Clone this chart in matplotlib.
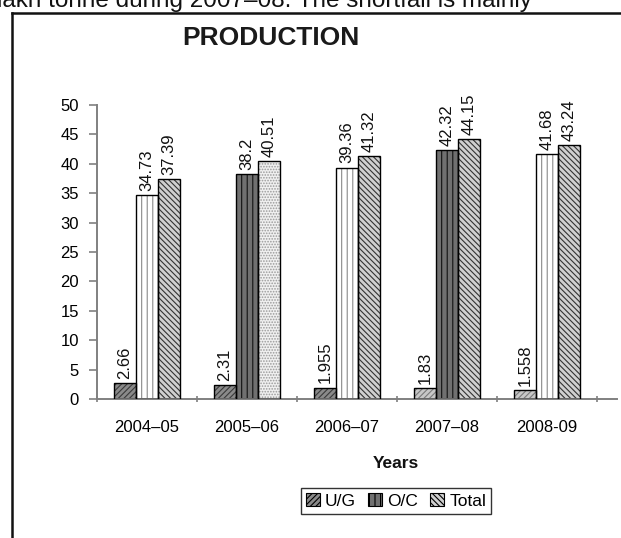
"""Recreate the PRODUCTION grouped bar chart (U/G, O/C, Total by year)."""

import matplotlib
matplotlib.use("Agg")

import numpy as np
import matplotlib.pyplot as plt
from matplotlib.patches import Rectangle
from matplotlib.lines import Line2D

plt.rcParams["font.family"] = ["Liberation Sans", "DejaVu Sans"]
plt.rcParams["hatch.linewidth"] = 0.8

# ── Data ───────────────────────────────────────────────────────────────────
years = ["2004–05", "2005–06", "2006–07", "2007–08", "2008-09"]
series = ["U/G", "O/C", "Total"]
ug = [2.66, 2.31, 1.955, 1.83, 1.558]
oc = [34.73, 38.2, 39.36, 42.32, 41.68]
total = [37.39, 40.51, 41.32, 44.15, 43.24]
labels_ug = ["2.66", "2.31", "1.955", "1.83", "1.558"]
labels_oc = ["34.73", "38.2", "39.36", "42.32", "41.68"]
labels_total = ["37.39", "40.51", "41.32", "44.15", "43.24"]
y_ticks = [0, 5, 10, 15, 20, 25, 30, 35, 40, 45, 50]

# ── Styles (the scan shows the fills varying from group to group) ──────────
ug_style = [("#8a8a8a", "#3a3a3a", "//////")] * 3 + [("#c8c8c8", "#7a7a7a", "//////")] * 2
oc_light = ("#ffffff", "#8a8a8a", "|||")
oc_dark = ("#707070", "#111111", "|||")
oc_style = [oc_light, oc_dark, oc_light, oc_dark, oc_light]
tot_diag = ("#d0d0d0", "#333333", "\\\\\\\\\\\\")
tot_dots = ("#f0f0f0", "#9a9a9a", "......")
tot_style = [tot_diag, tot_dots, tot_diag, tot_diag, tot_diag]

fig = plt.figure(figsize=(6.21, 5.38), dpi=100)
W, H = 621, 538
ax = fig.add_axes([97 / W, 1 - 399 / H, 520 / W, 294 / H])

x = np.arange(len(years))
bw = 0.22
for vals, labs, styles, off in [(ug, labels_ug, ug_style, -bw),
                                (oc, labels_oc, oc_style, 0.0),
                                (total, labels_total, tot_style, bw)]:
    for i, (v, lab, (fc, hc, hatch)) in enumerate(zip(vals, labs, styles)):
        ax.bar(x[i] + off, v, width=bw, facecolor=fc, edgecolor=hc,
               hatch=hatch, linewidth=0, zorder=2)
        ax.bar(x[i] + off, v, width=bw, facecolor="none", edgecolor="black",
               linewidth=1.0, zorder=3)
        ax.annotate(lab, xy=(x[i] + off, v), xytext=(0, 3),
                    textcoords="offset points", rotation=90,
                    ha="center", va="bottom", fontsize=12, color="#111111")

ax.set_xlim(-0.5, 4.7)
ax.set_ylim(0, 50)
ax.set_yticks(y_ticks)
ax.set_xticks(x)
ax.set_xticklabels(years)
ax.set_xticks(np.arange(-0.5, 5.0, 1.0), minor=True)
ax.tick_params(axis="x", which="major", length=0, pad=15, labelsize=12)
ax.tick_params(axis="x", which="minor", length=5, direction="inout",
               color="#808080", width=1.2)
ax.tick_params(axis="y", length=6, direction="out", color="#808080",
               width=1.2, labelsize=12, pad=7)
for s in ["top", "right"]:
    ax.spines[s].set_visible(False)
for s in ["left", "bottom"]:
    ax.spines[s].set_color("#808080")
    ax.spines[s].set_linewidth(1.4)

# Title and axis label
fig.text(271 / W, 1 - 38 / H, "PRODUCTION", ha="center", va="center",
         fontsize=19, fontweight="bold", color="#1a1a1a")
fig.text(396 / W, 1 - 463 / H, "Years", ha="center", va="center",
         fontsize=12.5, fontweight="bold", color="#111111")

# Legend
handles = [Rectangle((0, 0), 1, 1, facecolor=ug_style[0][0], edgecolor="black",
                     hatch="//////", linewidth=0.8),
           Rectangle((0, 0), 1, 1, facecolor=oc_dark[0], edgecolor="black",
                     hatch="|||", linewidth=0.8),
           Rectangle((0, 0), 1, 1, facecolor="#d0d0d0", edgecolor="black",
                     hatch="\\\\\\\\\\\\", linewidth=0.8)]
leg = fig.legend(handles, series, loc="center", bbox_to_anchor=(396 / W, 1 - 501 / H),
                 ncol=3, fontsize=12.5, frameon=True, fancybox=False,
                 edgecolor="black", handlelength=0.8, handleheight=0.8,
                 handletextpad=0.3, columnspacing=0.7, borderpad=0.3)
leg.get_frame().set_linewidth(1.0)

# Frame of the scanned page box
fig.add_artist(Line2D([12 / W, 12 / W], [0, 1 - 13 / H], color="#111111",
                      linewidth=1.8, transform=fig.transFigure))
fig.add_artist(Line2D([12 / W, 1], [1 - 13 / H, 1 - 13 / H], color="#111111",
                      linewidth=1.8, transform=fig.transFigure))

# Cropped text line at the very top of the scan
fig.text(-0.005, 1 - 7 / H, "lakh tonne during 2007–08. The shortfall is mainly",
         ha="left", va="baseline", fontsize=17.5, color="#111111")

fig.savefig("out.png", dpi=100)
